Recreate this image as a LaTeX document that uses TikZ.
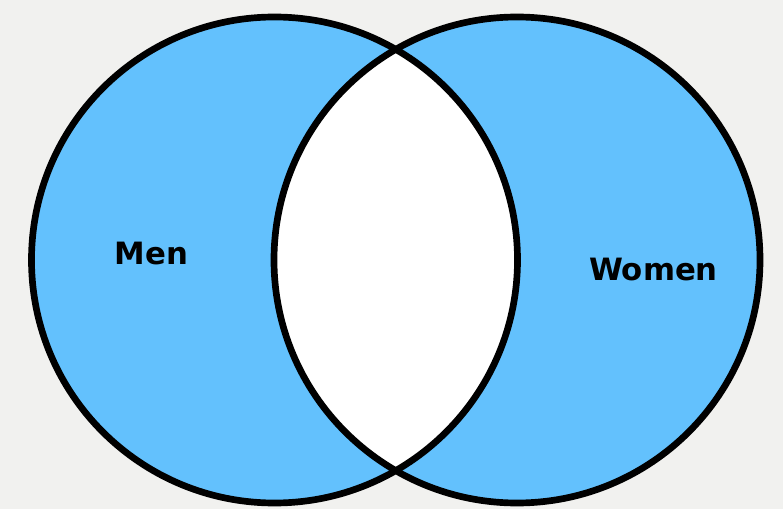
\documentclass[tikz,border=0pt]{standalone}
\usepackage{fontspec}
\setsansfont{DejaVu Sans}
\usepackage{tikz}
\definecolor{setblue}{RGB}{99,193,253}
\definecolor{paper}{RGB}{241,241,239}

\begin{document}
\begin{tikzpicture}[
  x=0.2mm, y=-0.2mm,
  ring/.style={draw=black, line width=3.8pt},
  lbl/.style={font=\sffamily\bfseries\fontsize{17.5}{20}\selectfont, inner sep=0pt},
]
% ---- canvas ----
\fill[paper] (0,0) rectangle (783,509);
\useasboundingbox (0,0) rectangle (783,509);

% ---- sets ----
\coordinate (Mc) at (274.5,260);
\coordinate (Wc) at (517,260);
\fill[setblue] (Mc) circle[radius=243];
\fill[setblue] (Wc) circle[radius=243];
\begin{scope}
  \clip (Mc) circle[radius=243];
  \fill[white] (Wc) circle[radius=243];
\end{scope}
\draw[ring] (Mc) circle[radius=243];
\draw[ring] (Wc) circle[radius=243];

% ---- labels ----
\node[lbl] (men)   at (151.5,253.5) {Men};
\node[lbl] (women) at (653.5,270)   {Women};
\end{tikzpicture}
\end{document}
